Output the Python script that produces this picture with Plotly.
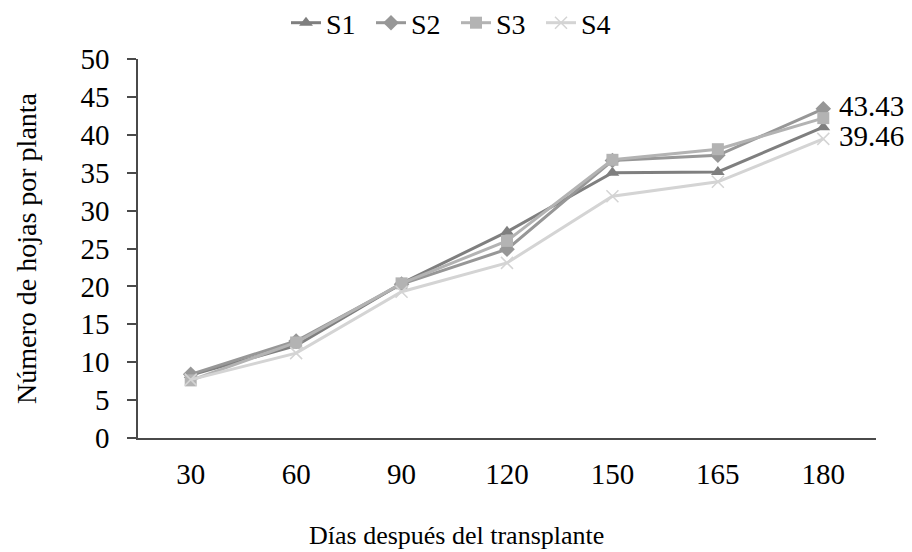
import plotly.graph_objects as go

days = ["30", "60", "90", "120", "150", "165", "180"]
s1 = [8.3, 12.2, 20.4, 27.2, 35.0, 35.1, 41.0]
s2 = [8.4, 12.8, 20.3, 24.9, 36.6, 37.3, 43.43]
s3 = [7.6, 12.6, 20.4, 26.0, 36.7, 38.1, 42.2]
s4 = [7.7, 11.2, 19.3, 23.1, 31.9, 33.8, 39.46]

x_title = "Días después del transplante"
y_title = "Número de hojas por planta"

series = [
    ("S1", s1, "#7f7f7f", "triangle-up", 12),
    ("S2", s2, "#979797", "diamond", 12),
    ("S3", s3, "#b3b3b3", "square", 12),
    ("S4", s4, "#d4d4d4", "x-thin", 12),
]

FONT = "Liberation Serif"
L, R, T, B = 138, 36, 59, 114
PW, PH = 912 - L - R, 552 - T - B

fig = go.Figure()
for name, vals, col, sym, sz in series:
    text = [""] * len(vals)
    if name in ("S2", "S4"):
        text[-1] = f" {vals[-1]:.2f}"
    marker = dict(symbol=sym, size=sz, color=col)
    if sym == "x-thin":
        marker["line"] = dict(color=col, width=1.5)
    fig.add_trace(go.Scatter(
        x=days, y=vals, name=name, mode="lines+markers+text",
        line=dict(color=col, width=3),
        marker=marker,
        text=text, textposition="middle right",
        textfont=dict(family=FONT, size=29, color="black"),
        cliponaxis=False,
    ))

fig.add_annotation(
    text=x_title, xref="paper", yref="paper",
    x=(456 - L) / PW, y=-(535 - (T + PH)) / PH,
    xanchor="center", yanchor="middle", showarrow=False,
    font=dict(family=FONT, size=26, color="black"),
)

fig.update_layout(
    width=912, height=552,
    margin=dict(l=L, r=R, t=T, b=B, autoexpand=False),
    paper_bgcolor="white", plot_bgcolor="white",
    font=dict(family=FONT, size=26, color="black"),
    showlegend=True,
    legend=dict(orientation="h", xref="paper", yref="paper",
                x=(456 - L) / PW, xanchor="center",
                y=1 + (T - 23) / PH, yanchor="middle",
                font=dict(family=FONT, size=28, color="black"),
                entrywidth=40, entrywidthmode="pixels"),
    xaxis=dict(
        type="category", range=[-0.5, 6.5], automargin=False,
        showline=True, linecolor="#4a4a4a", linewidth=2,
        ticks="", showgrid=False, zeroline=False,
        ticklabelstandoff=9,
        tickfont=dict(family=FONT, size=29, color="black"),
    ),
    yaxis=dict(
        range=[0, 50], dtick=5, automargin=False,
        showline=True, linecolor="#4a4a4a", linewidth=1.5,
        ticks="outside", ticklen=9, tickcolor="#4a4a4a", tickwidth=1.5,
        showgrid=False, zeroline=False,
        ticklabelstandoff=12,
        tickfont=dict(family=FONT, size=29, color="black"),
        title=dict(text=y_title,
                   font=dict(family=FONT, size=28, color="black"), standoff=36),
    ),
)

fig.write_html("out.html")
